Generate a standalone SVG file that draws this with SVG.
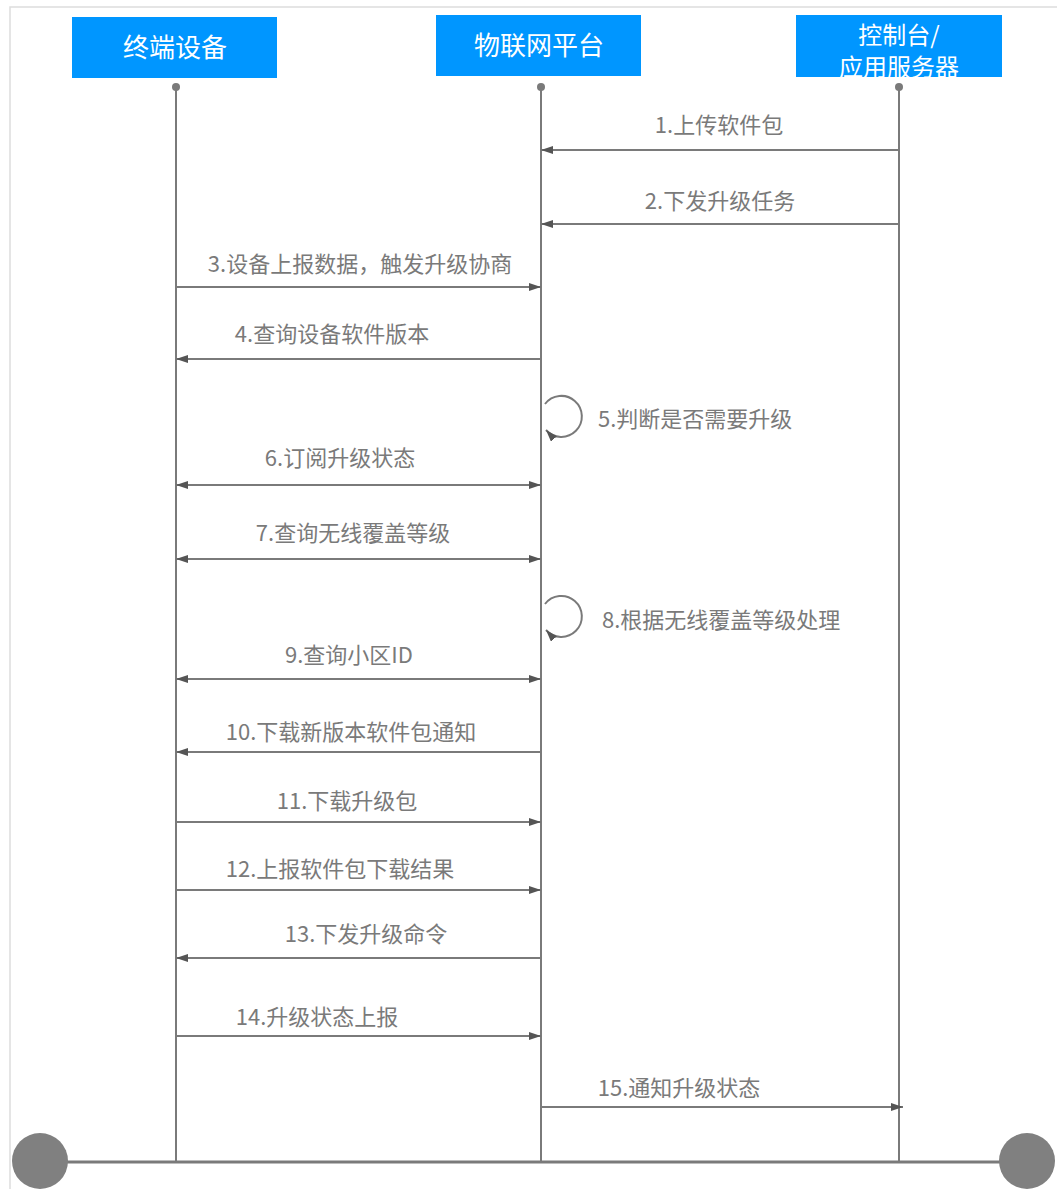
<svg xmlns="http://www.w3.org/2000/svg" width="1057" height="1189" viewBox="0 0 1057 1189">
<style>
.box{fill:#0096FF;}
.bt{font-family:"Noto Sans CJK SC","Liberation Sans",sans-serif;font-size:26px;fill:#ffffff;text-anchor:middle;}
.bt3{font-size:24px;}
.life{stroke:#7a7a7a;stroke-width:2;fill:none;}
.msg{stroke:#7a7a7a;stroke-width:2;fill:none;}
.lbl{font-family:"Noto Sans CJK SC","Liberation Sans",sans-serif;font-size:22px;fill:#7a7a7a;}
.c{text-anchor:middle;}
</style>
<defs>
<marker id="ah" viewBox="0 0 12 8" refX="12" refY="4" markerWidth="12" markerHeight="8" markerUnits="userSpaceOnUse" orient="auto-start-reverse">
<path d="M0,0 L12,4 L0,8 Z" fill="#555555"/>
</marker>
</defs>
<rect x="0" y="0" width="1057" height="1189" fill="#ffffff"/>
<rect x="10" y="7" width="1060" height="1200" fill="none" stroke="#dddddd" stroke-width="1.5"/>
<g id="lifelines">
<line class="life" x1="176" y1="87" x2="176" y2="1162"/>
<line class="life" x1="541" y1="87" x2="541" y2="1162"/>
<line class="life" x1="899" y1="87" x2="899" y2="1162"/>
<circle cx="176" cy="87" r="4" fill="#7a7a7a"/>
<circle cx="541" cy="87" r="4" fill="#7a7a7a"/>
<circle cx="899" cy="87" r="4" fill="#7a7a7a"/>
<line x1="40" y1="1162" x2="1027" y2="1162" stroke="#7a7a7a" stroke-width="3"/>
<circle cx="40" cy="1161" r="28" fill="#808080"/>
<circle cx="1027" cy="1161" r="28" fill="#808080"/>
</g>
<g id="node-device">
<rect class="box" x="72" y="17" width="205" height="61"/>
<text class="bt" x="175" y="57">终端设备</text>
</g>
<g id="node-iot">
<rect class="box" x="436" y="15" width="205" height="61"/>
<text class="bt" x="539" y="55">物联网平台</text>
</g>
<g id="node-app">
<rect class="box" x="796" y="15" width="206" height="62"/>
<text class="bt bt3" x="899" y="44">控制台/</text>
<text class="bt bt3" x="899" y="76">应用服务器</text>
</g>
<g id="connectors">
<line class="msg" x1="899" y1="150" x2="541" y2="150" marker-end="url(#ah)"/>
<line class="msg" x1="899" y1="224" x2="541" y2="224" marker-end="url(#ah)"/>
<line class="msg" x1="176" y1="287" x2="541" y2="287" marker-end="url(#ah)"/>
<line class="msg" x1="541" y1="359" x2="176" y2="359" marker-end="url(#ah)"/>
<path class="msg" d="M545,404 A20.5,20.5 0 1 1 546,430" marker-end="url(#ah)"/>
<line class="msg" x1="176" y1="485" x2="541" y2="485" marker-start="url(#ah)" marker-end="url(#ah)"/>
<line class="msg" x1="176" y1="559" x2="541" y2="559" marker-start="url(#ah)" marker-end="url(#ah)"/>
<path class="msg" d="M545,604 A20.5,20.5 0 1 1 546,630" marker-end="url(#ah)"/>
<line class="msg" x1="176" y1="679" x2="541" y2="679" marker-start="url(#ah)" marker-end="url(#ah)"/>
<line class="msg" x1="541" y1="752" x2="176" y2="752" marker-end="url(#ah)"/>
<line class="msg" x1="176" y1="822" x2="541" y2="822" marker-end="url(#ah)"/>
<line class="msg" x1="176" y1="890" x2="541" y2="890" marker-end="url(#ah)"/>
<line class="msg" x1="541" y1="958" x2="176" y2="958" marker-end="url(#ah)"/>
<line class="msg" x1="176" y1="1036" x2="541" y2="1036" marker-end="url(#ah)"/>
<line class="msg" x1="541" y1="1107" x2="903" y2="1107" marker-end="url(#ah)"/>
</g>
<g id="labels">
<text class="lbl c" x="719" y="133">1.上传软件包</text>
<text class="lbl c" x="720" y="209">2.下发升级任务</text>
<text class="lbl c" x="360" y="272">3.设备上报数据，触发升级协商</text>
<text class="lbl c" x="332" y="342">4.查询设备软件版本</text>
<text class="lbl" x="598" y="427">5.判断是否需要升级</text>
<text class="lbl c" x="340" y="466">6.订阅升级状态</text>
<text class="lbl c" x="353" y="541">7.查询无线覆盖等级</text>
<text class="lbl" x="602" y="628">8.根据无线覆盖等级处理</text>
<text class="lbl c" x="349" y="663">9.查询小区ID</text>
<text class="lbl c" x="351" y="740">10.下载新版本软件包通知</text>
<text class="lbl c" x="347" y="809">11.下载升级包</text>
<text class="lbl c" x="340" y="877">12.上报软件包下载结果</text>
<text class="lbl c" x="366" y="942">13.下发升级命令</text>
<text class="lbl c" x="317" y="1025">14.升级状态上报</text>
<text class="lbl c" x="679" y="1096">15.通知升级状态</text>
</g>
</svg>
